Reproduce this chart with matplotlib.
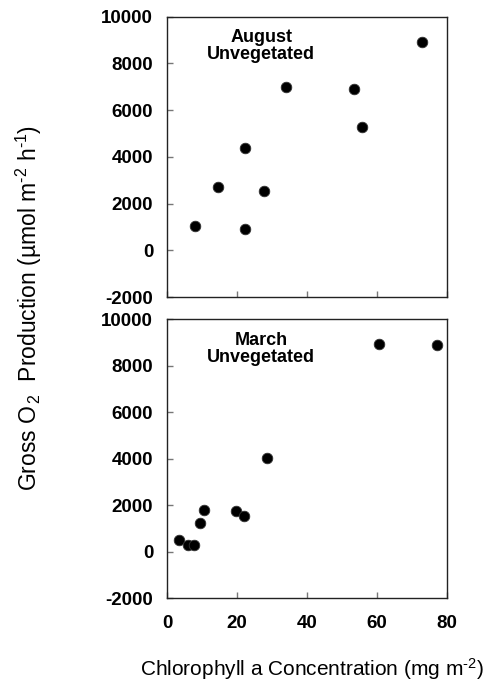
import matplotlib
matplotlib.use("Agg")
import matplotlib.pyplot as plt

plt.rcParams['font.family'] = ['Liberation Sans', 'DejaVu Sans']
plt.rcParams['mathtext.fontset'] = 'custom'
plt.rcParams['mathtext.rm'] = 'Liberation Sans'
plt.rcParams['mathtext.it'] = 'Liberation Sans:italic'
plt.rcParams['mathtext.bf'] = 'Liberation Sans:bold'
plt.rcParams['axes.unicode_minus'] = False

# August, unvegetated
aug_chl = [8.0, 14.5, 22.3, 22.2, 27.6, 33.9, 53.4, 55.8, 72.8]
aug_o2 = [1060, 2700, 4370, 930, 2520, 6980, 6880, 5280, 8900]

# March, unvegetated
mar_chl = [3.4, 6.1, 7.6, 9.4, 10.5, 19.7, 22.1, 28.5, 60.5, 77.0]
mar_o2 = [490, 290, 310, 1260, 1820, 1760, 1530, 4040, 8930, 8900]

yticks = [-2000, 0, 2000, 4000, 6000, 8000, 10000]
xticks = [0, 20, 40, 60, 80]
titles = ["August\nUnvegetated", "March\nUnvegetated"]

fig = plt.figure(figsize=(4.87, 6.88), dpi=100)
ax1 = fig.add_axes([0.343, 0.568, 0.575, 0.408])
ax2 = fig.add_axes([0.343, 0.1303, 0.575, 0.4055])

for ax, xs, ys, title in [(ax1, aug_chl, aug_o2, titles[0]),
                           (ax2, mar_chl, mar_o2, titles[1])]:
    ax.scatter(xs, ys, s=58, c='black', edgecolors='#333333', linewidths=0.6, zorder=3)
    ax.set_xlim(0, 80)
    ax.set_ylim(-2000, 10000)
    ax.set_xticks(xticks)
    ax.set_yticks(yticks)
    ax.tick_params(direction='in', length=4, width=1, color='#777777',
                   labelsize=13.5)
    ax.tick_params(axis='y', pad=10)
    ax.tick_params(axis='x', pad=12)
    for lab in ax.get_yticklabels() + ax.get_xticklabels():
        lab.set_fontweight('bold')
    for sp in ax.spines.values():
        sp.set_color('#222222')
        sp.set_linewidth(1.0)
    ax.text(26.9, 9450, title, ha='center', va='top', fontsize=13,
            fontweight='bold', linespacing=1.0)

ax1.tick_params(labelbottom=False)

fig.text(0.06, 0.552,
         r"Gross O$_{\,2}$  Production (µmol m$^{\text{-}2}$ h$^{\text{-}1}$)",
         rotation=90, ha='center', va='center', fontsize=16.5)
fig.text(0.64, 0.028, r"Chlorophyll a Concentration (mg m$^{\text{-}2}$)",
         ha='center', va='center', fontsize=15)

fig.savefig("out.png", dpi=100)
